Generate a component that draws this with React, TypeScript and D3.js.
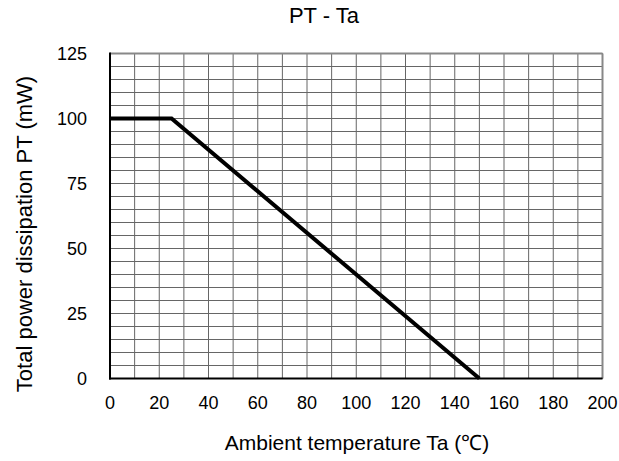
import React from "react";
import * as d3 from "d3";

const taValues = [0, 25, 150];
const ptValues = [100, 100, 0];
const xTicks = [0, 20, 40, 60, 80, 100, 120, 140, 160, 180, 200];
const yTicks = [0, 25, 50, 75, 100, 125];
const xGrid = d3.range(0, 201, 10);
const yGrid = d3.range(0, 126, 5);

const W = 619, H = 461;
const L = 110, R = 602.5, T = 53.5, B = 378.5;

export default function App() {
  const x = d3.scaleLinear().domain([0, 200]).range([L, R]);
  const y = d3.scaleLinear().domain([0, 125]).range([B, T]);
  const line = d3.line<number>().x((d, i) => x(taValues[i])).y((d) => y(d));
  const font = "Arial, 'Liberation Sans', sans-serif";
  return (
    <svg width={W} height={H} style={{ position: "absolute", left: 0, top: 0 }} fontFamily={font}>
      <rect width={W} height={H} fill="#fff" />
      {xGrid.map((v) => (
        <line key={"x" + v} x1={x(v)} x2={x(v)} y1={T} y2={B} stroke="#666" strokeWidth={1} />
      ))}
      {yGrid.map((v) => (
        <line key={"y" + v} x1={L} x2={R} y1={y(v)} y2={y(v)} stroke="#666" strokeWidth={1} />
      ))}
      <line x1={L} x2={R} y1={T} y2={T} stroke="#888" strokeWidth={2} />
      <line x1={R} x2={R} y1={T} y2={B} stroke="#888" strokeWidth={2} />
      <line x1={L} x2={L} y1={T - 1} y2={B + 1} stroke="#000" strokeWidth={2} />
      <line x1={L - 1} x2={R} y1={B} y2={B} stroke="#000" strokeWidth={2} />
      <path d={line(ptValues) || ""} fill="none" stroke="#000" strokeWidth={4} strokeLinejoin="miter" />
      {xTicks.map((v) => (
        <text key={"xt" + v} x={x(v)} y={409} textAnchor="middle" fontSize={18} fill="#000">{v}</text>
      ))}
      {yTicks.map((v) => (
        <text key={"yt" + v} x={87} y={y(v) + 6.5} textAnchor="end" fontSize={18} fill="#000">{v}</text>
      ))}
      <text x={324} y={23} textAnchor="middle" fontSize={22} fill="#000">PT - Ta</text>
      <text x={357} y={450} textAnchor="middle" fontSize={21} fill="#000">Ambient temperature Ta (℃)</text>
      <text transform={`translate(32, ${234}) rotate(-90)`} textAnchor="middle" fontSize={22} fill="#000">
        Total power dissipation PT (mW)
      </text>
    </svg>
  );
}
